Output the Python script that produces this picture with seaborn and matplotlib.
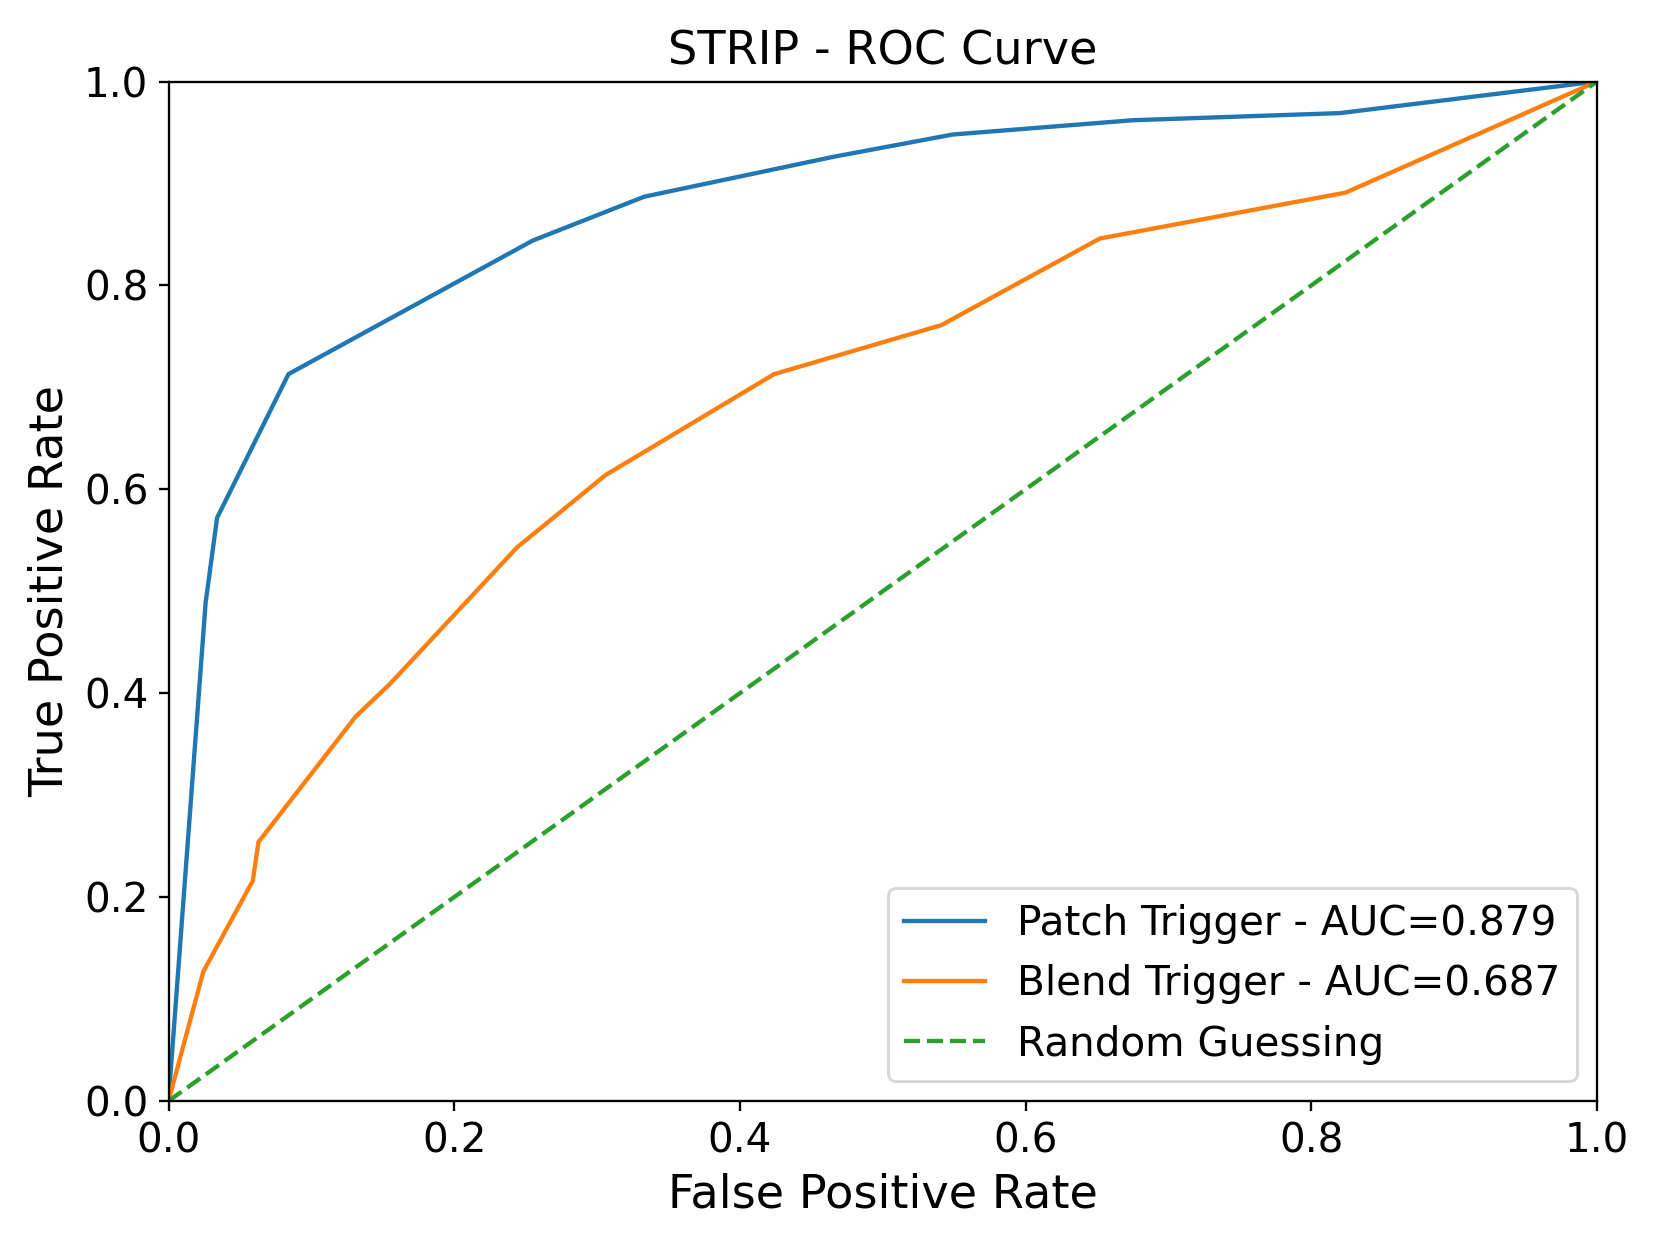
import matplotlib
matplotlib.use("Agg")
import matplotlib.pyplot as plt
import seaborn as sns
import pandas as pd

# Data
patch_fpr = [0.0, 0.026, 0.034, 0.084, 0.255, 0.333, 0.465, 0.549, 0.675, 0.820, 1.0]
patch_tpr = [0.0, 0.489, 0.572, 0.713, 0.844, 0.887, 0.926, 0.948, 0.962, 0.969, 1.0]

blend_fpr = [0.0, 0.0244, 0.059, 0.063, 0.131, 0.155, 0.244, 0.306, 0.424, 0.541, 0.652, 0.824, 1.0]
blend_tpr = [0.0, 0.127, 0.216, 0.254, 0.377, 0.409, 0.543, 0.614, 0.713, 0.761, 0.846, 0.891, 1.0]

random_x = [0.0, 1.0]
random_y = [0.0, 1.0]

labels = ["Patch Trigger - AUC=0.879", "Blend Trigger - AUC=0.687", "Random Guessing"]
title = "STRIP - ROC Curve"
xlabel = "False Positive Rate"
ylabel = "True Positive Rate"

plt.rcParams["font.family"] = ["DejaVu Sans"]

DPI = 208
W, H = 1661, 1246
fig = plt.figure(figsize=(W / DPI, H / DPI), dpi=DPI)
ax = fig.add_axes([168.5 / W, (H - 1101) / H, 1428.5 / W, 1019.5 / H])

pal = sns.color_palette("tab10")
df_p = pd.DataFrame({"fpr": patch_fpr, "tpr": patch_tpr})
df_b = pd.DataFrame({"fpr": blend_fpr, "tpr": blend_tpr})
df_r = pd.DataFrame({"fpr": random_x, "tpr": random_y})

sns.lineplot(data=df_p, x="fpr", y="tpr", sort=False, estimator=None, color=pal[0],
             linewidth=1.5, label=labels[0], ax=ax)
sns.lineplot(data=df_b, x="fpr", y="tpr", sort=False, estimator=None, color=pal[1],
             linewidth=1.5, label=labels[1], ax=ax)
sns.lineplot(data=df_r, x="fpr", y="tpr", sort=False, estimator=None, color=pal[2],
             linewidth=1.5, linestyle="--", label=labels[2], ax=ax)

ax.set_xlim(0, 1)
ax.set_ylim(0, 1)
ax.set_xticks([0, 0.2, 0.4, 0.6, 0.8, 1.0])
ax.set_yticks([0, 0.2, 0.4, 0.6, 0.8, 1.0])
ax.tick_params(labelsize=14)
ax.set_xlabel(xlabel, fontsize=16)
ax.set_ylabel(ylabel, fontsize=16)
ax.set_title(title, fontsize=16)
ax.legend(loc="lower right", fontsize=14)

fig.savefig("out.png", dpi=DPI)
